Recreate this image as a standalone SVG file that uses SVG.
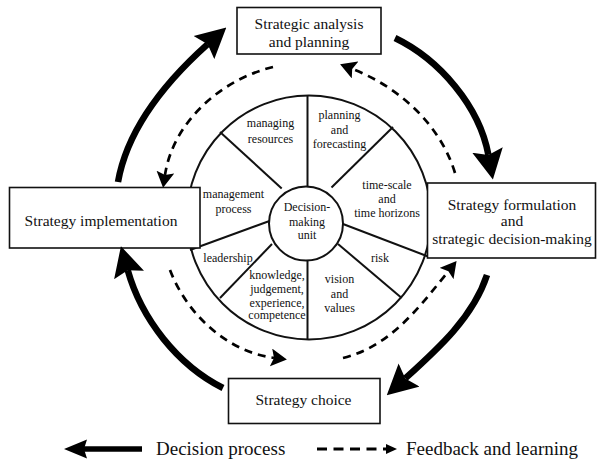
<svg xmlns="http://www.w3.org/2000/svg" width="603" height="468" viewBox="0 0 603 468">
  <style>
    text { font-family: "Liberation Serif", "Times New Roman", serif; fill: #111; }
    .box { fill: #fff; stroke: #111; stroke-width: 1.6; }
    .boxt { font-size: 15.5px; text-anchor: middle; }
    .wt { font-size: 12px; text-anchor: middle; }
    .wheel { fill: none; stroke: #111; stroke-width: 2; }
    .spoke { stroke: #111; stroke-width: 2; }
    .solid { fill: none; stroke: #000; stroke-width: 6.5; marker-end: url(#bigHead); }
    .dash { fill: none; stroke: #000; stroke-width: 2.7; stroke-dasharray: 8 6; marker-end: url(#smallHead); }
    .leg { font-size: 19px; }
  </style>
  <defs>
    <marker id="bigHead" markerUnits="userSpaceOnUse" viewBox="0 0 30 32" markerWidth="30" markerHeight="32" refX="5" refY="16" orient="auto">
      <path d="M0,0.5 L30,16 L0,31.5 L5,16 Z" fill="#000"/>
    </marker>
    <marker id="smallHead" markerUnits="userSpaceOnUse" viewBox="0 0 16 18" markerWidth="16" markerHeight="18" refX="3" refY="9" orient="auto">
      <path d="M0,0 L16,9 L0,18 L3,9 Z" fill="#000"/>
    </marker>
  </defs>
  <rect width="603" height="468" fill="#fff"/>

  <g id="wheel">
    <circle class="wheel" cx="309" cy="217.5" r="122"/>
    <line class="spoke" x1="307.5" y1="95.5" x2="307.5" y2="186.5"/>
    <line class="spoke" x1="331.5" y1="187.5" x2="393" y2="127"/>
    <line class="spoke" x1="343" y1="224" x2="428" y2="256.5"/>
    <line class="spoke" x1="338" y1="244" x2="401.7" y2="298"/>
    <line class="spoke" x1="307.5" y1="260.5" x2="307.5" y2="339.5"/>
    <line class="spoke" x1="272" y1="244" x2="220" y2="298"/>
    <line class="spoke" x1="269.5" y1="221" x2="190" y2="250"/>
    <line class="spoke" x1="281.7" y1="188.5" x2="220" y2="132"/>
    <g id="seg-managing-resources">
      <text class="wt" x="270.5" y="127">managing</text>
      <text class="wt" x="270.5" y="142.5">resources</text>
    </g>
    <g id="seg-planning">
      <text class="wt" x="339.5" y="119">planning</text>
      <text class="wt" x="339.5" y="134">and</text>
      <text class="wt" x="339.5" y="147.5">forecasting</text>
    </g>
    <g id="seg-timescale">
      <text class="wt" x="387" y="189">time-scale</text>
      <text class="wt" x="387" y="202.5">and</text>
      <text class="wt" x="387" y="217">time horizons</text>
    </g>
    <g id="seg-risk">
      <text class="wt" x="380" y="262">risk</text>
    </g>
    <g id="seg-vision">
      <text class="wt" x="339.5" y="283">vision</text>
      <text class="wt" x="339.5" y="297.5">and</text>
      <text class="wt" x="339.5" y="311.5">values</text>
    </g>
    <g id="seg-knowledge">
      <text class="wt" x="277" y="279">knowledge,</text>
      <text class="wt" x="277" y="293">judgement,</text>
      <text class="wt" x="277" y="306.5">experience,</text>
      <text class="wt" x="277" y="319">competence</text>
    </g>
    <g id="seg-leadership">
      <text class="wt" x="228" y="262">leadership</text>
    </g>
    <g id="seg-management-process">
      <text class="wt" x="233.5" y="198">management</text>
      <text class="wt" x="233.5" y="212.5">process</text>
    </g>
    <g id="decision-making-unit">
      <circle class="wheel" cx="306" cy="223.5" r="37" fill="#fff"/>
      <text class="wt" x="307" y="211">Decision-</text>
      <text class="wt" x="307" y="226">making</text>
      <text class="wt" x="307" y="239">unit</text>
    </g>
  </g>

  <g id="node-analysis">
    <rect class="box" x="237" y="7.5" width="144" height="46.5"/>
    <text class="boxt" x="309" y="28.5">Strategic analysis</text>
    <text class="boxt" x="309" y="47">and planning</text>
  </g>
  <g id="node-implementation">
    <rect class="box" x="9.5" y="187.5" width="190.5" height="60.5"/>
    <text class="boxt" x="101" y="226">Strategy implementation</text>
  </g>
  <g id="node-formulation">
    <rect class="box" x="427.5" y="183" width="168" height="75"/>
    <text class="boxt" x="512" y="209.5">Strategy formulation</text>
    <text class="boxt" x="512" y="226">and</text>
    <text class="boxt" x="512" y="243.5">strategic decision-making</text>
  </g>
  <g id="node-choice">
    <rect class="box" x="228.5" y="378.5" width="151.5" height="45"/>
    <text class="boxt" x="303.5" y="405">Strategy choice</text>
  </g>

  <g id="connectors">
    <path class="solid" d="M118,182 C127.6,127.8 166.7,80.9 207.7,44.2"/>
    <path class="solid" d="M395,38 C439.6,59.5 479.5,106.4 488.4,154.9"/>
    <path class="solid" d="M487,275 C473.3,317 438,348.8 405.3,378.4"/>
    <path class="solid" d="M223,388 C177.6,365.2 141.4,319 127.7,270.2"/>
    <path class="dash" d="M273,67 C221.2,79.4 173,122 165,175"/>
    <path class="dash" d="M455,173 C440.5,124.9 399,87 352.2,68.9"/>
    <path class="dash" d="M170,270 C186.9,314.3 227,351.7 274,357.9"/>
    <path class="dash" d="M343,358 C389.7,346.7 418.2,308.6 448.4,271.2"/>
  </g>

  <g id="legend">
    <line x1="142" y1="449" x2="84" y2="449" stroke="#000" stroke-width="5.5"/>
    <path d="M64,449 L87,439.5 L84,449 L87,458.5 Z" fill="#000"/>
    <text class="leg" x="156" y="455">Decision process</text>
    <line x1="317" y1="449" x2="388" y2="449" stroke="#000" stroke-width="3" stroke-dasharray="10 6.5"/>
    <path d="M386,444 L397,449 L386,454 Z" fill="#000"/>
    <text class="leg" x="406" y="455">Feedback and learning</text>
  </g>
</svg>
